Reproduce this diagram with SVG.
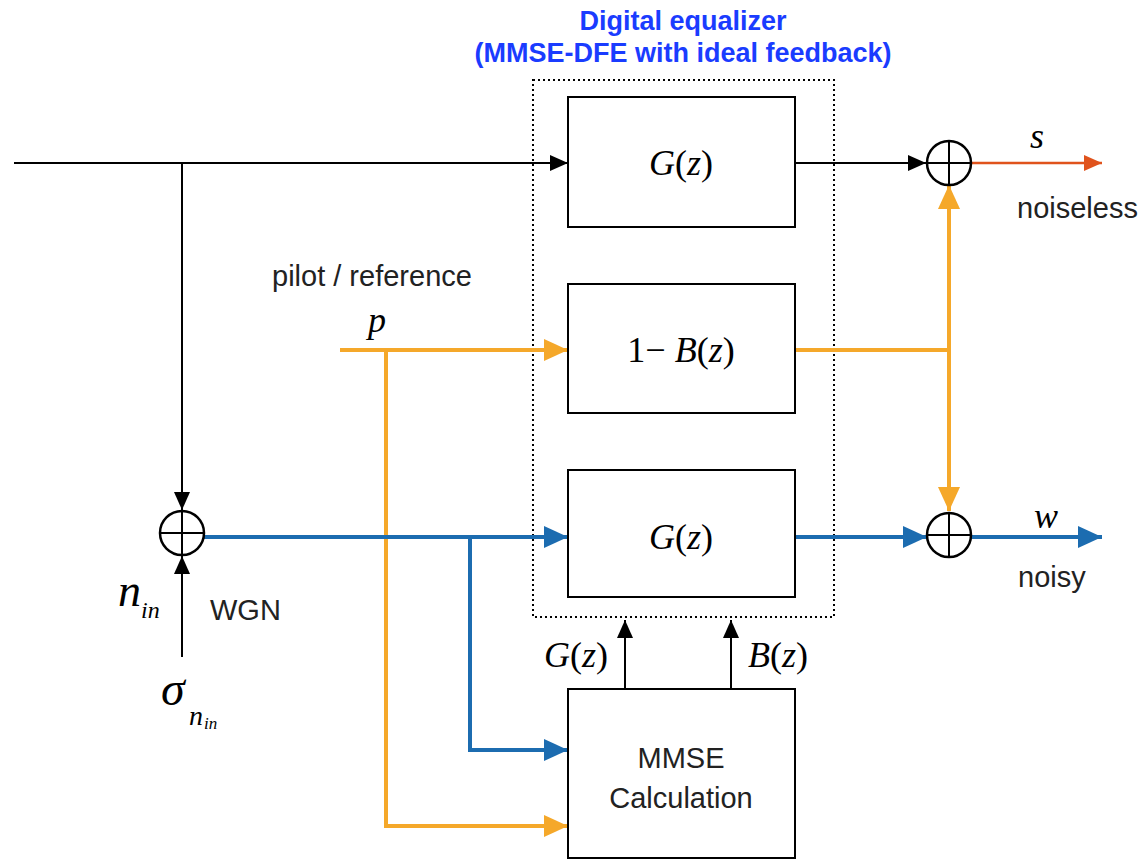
<svg xmlns="http://www.w3.org/2000/svg" width="1148" height="861" viewBox="0 0 1148 861">
<style>
.box{fill:#fff;stroke:#000;stroke-width:2}
.sum{fill:#fff;stroke:#000;stroke-width:2.5}
.k{stroke:#000;stroke-width:2;fill:none}
.o{stroke:#F5A82A;stroke-width:4;fill:none}
.b{stroke:#1C6CB0;stroke-width:4;fill:none}
.r{stroke:#E0531C;stroke-width:2.5;fill:none}
.math{font-family:"Liberation Serif",serif;font-style:italic;font-size:36px;fill:#000}
.mathn{font-family:"Liberation Serif",serif;font-size:36px;fill:#000}
.lbl{font-family:"Liberation Sans",Arial,sans-serif;font-size:29px;fill:#222}
.title{font-family:"Liberation Sans",Arial,sans-serif;font-weight:bold;font-size:27px;fill:#1A3CFF;text-anchor:middle}
</style>
<defs>
<marker id="ao" markerWidth="24" markerHeight="22" refX="24" refY="11" orient="auto" markerUnits="userSpaceOnUse"><path d="M0,0L24,11L0,22z" fill="#F5A82A"/></marker>
<marker id="ab" markerWidth="24" markerHeight="22" refX="24" refY="11" orient="auto" markerUnits="userSpaceOnUse"><path d="M0,0L24,11L0,22z" fill="#1C6CB0"/></marker>
<marker id="ar" markerWidth="18" markerHeight="16" refX="18" refY="8" orient="auto" markerUnits="userSpaceOnUse"><path d="M0,0L18,8L0,16z" fill="#E0531C"/></marker>
<marker id="ak2" markerWidth="18" markerHeight="16" refX="18" refY="8" orient="auto" markerUnits="userSpaceOnUse"><path d="M0,0L18,8L0,16z" fill="#000"/></marker>
</defs>

<text class="title" x="683" y="30">Digital equalizer</text>
<text class="title" x="683" y="62">(MMSE-DFE with ideal feedback)</text>

<rect id="equalizer" x="533" y="80" width="301" height="537" fill="none" stroke="#000" stroke-width="2" stroke-dasharray="2,3"/>

<g id="connectors">
  <line class="k" x1="14" y1="163" x2="568" y2="163" marker-end="url(#ak2)"/>
  <line class="k" x1="182" y1="163" x2="182" y2="510" marker-end="url(#ak2)"/>
  <line class="k" x1="182" y1="657" x2="182" y2="556" marker-end="url(#ak2)"/>
  <line class="k" x1="795" y1="163" x2="926" y2="163" marker-end="url(#ak2)"/>
  <line class="r" x1="971" y1="163" x2="1102" y2="163" marker-end="url(#ar)"/>
  <line class="o" x1="340" y1="350" x2="568" y2="350" marker-end="url(#ao)"/>
  <polyline class="o" points="386,350 386,826 568,826" marker-end="url(#ao)"/>
  <line class="o" x1="795" y1="350" x2="951" y2="350"/>
  <line class="o" x1="949" y1="350" x2="949" y2="185" marker-end="url(#ao)"/>
  <line class="o" x1="949" y1="350" x2="949" y2="511" marker-end="url(#ao)"/>
  <line class="b" x1="204" y1="537" x2="568" y2="537" marker-end="url(#ab)"/>
  <polyline class="b" points="470,537 470,750 568,750" marker-end="url(#ab)"/>
  <line class="b" x1="795" y1="537" x2="927" y2="537" marker-end="url(#ab)"/>
  <line class="b" x1="971" y1="537" x2="1102" y2="537" marker-end="url(#ab)"/>
  <line class="k" x1="625" y1="689" x2="625" y2="620" marker-end="url(#ak2)"/>
  <line class="k" x1="731" y1="689" x2="731" y2="620" marker-end="url(#ak2)"/>
</g>

<g id="G_top">
  <rect class="box" x="568" y="97" width="227" height="130"/>
  <text class="math" x="681" y="175" text-anchor="middle">G<tspan font-style="normal">(</tspan>z<tspan font-style="normal">)</tspan></text>
</g>
<g id="one_minus_B">
  <rect class="box" x="568" y="284" width="227" height="129"/>
  <text class="mathn" x="681" y="362" text-anchor="middle">1− <tspan font-style="italic">B</tspan>(<tspan font-style="italic">z</tspan>)</text>
</g>
<g id="G_bottom">
  <rect class="box" x="568" y="470" width="227" height="127"/>
  <text class="math" x="681" y="549" text-anchor="middle">G<tspan font-style="normal">(</tspan>z<tspan font-style="normal">)</tspan></text>
</g>
<g id="mmse">
  <rect class="box" x="568" y="689" width="227" height="169"/>
  <text class="lbl" x="681" y="768" text-anchor="middle">MMSE</text>
  <text class="lbl" x="681" y="808" text-anchor="middle">Calculation</text>
</g>

<g id="sum_in">
  <circle class="sum" cx="182" cy="533" r="22"/>
  <path class="k" d="M160,533H204M182,511V555"/>
</g>
<g id="sum_s">
  <circle class="sum" cx="949" cy="163" r="22"/>
  <path class="k" d="M927,163H971M949,141V185"/>
</g>
<g id="sum_w">
  <circle class="sum" cx="949" cy="535" r="22"/>
  <path class="k" d="M927,535H971M949,513V557"/>
</g>

<g id="labels">
  <text class="math" x="1037" y="148" text-anchor="middle">s</text>
  <text class="lbl" x="1017" y="218">noiseless</text>
  <text class="math" x="1046" y="528" text-anchor="middle">w</text>
  <text class="lbl" x="1018" y="587">noisy</text>
  <text class="lbl" x="272" y="286">pilot / reference</text>
  <text class="math" x="377" y="332" text-anchor="middle">p</text>
  <text class="math" x="118" y="606" style="font-size:46px">n</text>
  <text class="math" x="141" y="618" style="font-size:24px">in</text>
  <text class="lbl" x="210" y="620">WGN</text>
  <text class="math" x="161" y="705" style="font-size:48px">σ</text>
  <text class="math" x="189" y="725" style="font-size:28px">n</text>
  <text class="math" x="204" y="729" style="font-size:17px">in</text>
  <text class="math" x="544" y="667">G<tspan font-style="normal">(</tspan>z<tspan font-style="normal">)</tspan></text>
  <text class="math" x="748" y="667">B<tspan font-style="normal">(</tspan>z<tspan font-style="normal">)</tspan></text>
</g>
</svg>
